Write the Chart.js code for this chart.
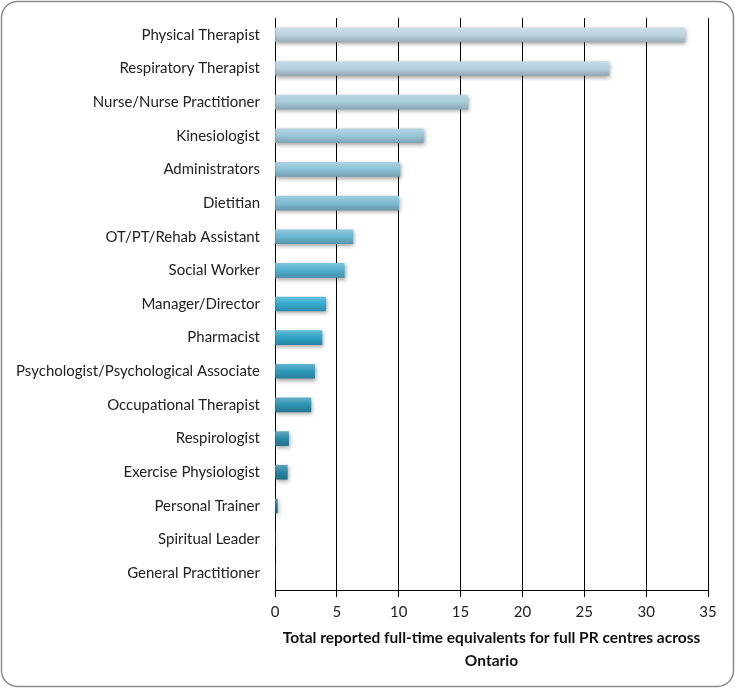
<!DOCTYPE html>
<html>
<head>
<meta charset="utf-8">
<script src="https://cdn.jsdelivr.net/npm/chart.js@4.4.0/dist/chart.umd.min.js"></script>
<style>
  html, body { margin: 0; padding: 0; background: #fff; }
  #wrap { width: 735px; height: 688px; position: relative; }
</style>
</head>
<body>
<div id="wrap"><canvas id="chartFte" width="735" height="688"></canvas></div>
<script>
  // data
  const roles = [
    'Physical Therapist', 'Respiratory Therapist', 'Nurse/Nurse Practitioner',
    'Kinesiologist', 'Administrators', 'Dietitian', 'OT/PT/Rehab Assistant',
    'Social Worker', 'Manager/Director', 'Pharmacist',
    'Psychologist/Psychological Associate', 'Occupational Therapist',
    'Respirologist', 'Exercise Physiologist', 'Personal Trainer',
    'Spiritual Leader', 'General Practitioner'
  ];
  const fteTotals = [33.1, 27.0, 15.6, 12.0, 10.1, 10.0, 6.3, 5.6, 4.1, 3.8, 3.2, 2.9, 1.1, 1.0, 0.2, 0, 0];
  const xTicks = [0, 5, 10, 15, 20, 25, 30, 35];
  const axisTitle = ['Total reported full-time equivalents for full PR centres across', 'Ontario'];

  // bar base colours, light grey-blue at top to deep teal at bottom
  const barColors = [
    '#bcd3df', '#b3cfdc', '#a6cbdb', '#99c6d9', '#8cc2d7', '#7ebbd3', '#6bb6d2',
    '#52afd0', '#34a9cf', '#2fa2c6', '#2d9abd', '#2c92b3', '#2b8aa8', '#2a83a0',
    '#297c96', '#297c96', '#297c96'
  ];
  const BAR_H = 14;

  function shade(hex, amt){
    const n = parseInt(hex.slice(1), 16);
    let r = (n >> 16) & 255, g = (n >> 8) & 255, b = n & 255;
    const f = v => Math.max(0, Math.min(255, Math.round(amt > 0 ? v + (255 - v) * amt : v * (1 + amt))));
    return 'rgb(' + f(r) + ',' + f(g) + ',' + f(b) + ')';
  }

  function barFill(ctx){
    const chart = ctx.chart;
    const base = barColors[ctx.dataIndex] || '#2b8aa8';
    const y = chart.scales && chart.scales.y;
    if(!y || !chart.chartArea) return base;
    const cy = y.getPixelForValue(ctx.dataIndex);
    const g = chart.ctx.createLinearGradient(0, cy - BAR_H / 2, 0, cy + BAR_H / 2);
    g.addColorStop(0, shade(base, 0.25));
    g.addColorStop(0.5, base);
    g.addColorStop(1, shade(base, -0.18));
    return g;
  }

  const frame = {
    id: 'frame',
    beforeDraw(chart){
      const c = chart.ctx;
      c.save();
      c.fillStyle = '#fff';
      c.fillRect(0, 0, chart.width, chart.height);
      c.beginPath();
      c.roundRect(1.5, 1.5, chart.width - 3, chart.height - 3, 16);
      c.strokeStyle = '#8a8a8a';
      c.lineWidth = 1.5;
      c.stroke();
      c.restore();
    }
  };

  const barShadow = {
    id: 'barShadow',
    beforeDatasetDraw(chart){
      const c = chart.ctx;
      c.save();
      c.shadowColor = 'rgba(0,0,0,0.35)';
      c.shadowBlur = 4;
      c.shadowOffsetX = 1;
      c.shadowOffsetY = 2;
    },
    afterDatasetDraw(chart){
      chart.ctx.restore();
    }
  };

  const font = 'Lato, "Open Sans", sans-serif';

  new Chart(document.getElementById('chartFte'), {
    type: 'bar',
    data: {
      labels: roles,
      datasets: [{
        data: fteTotals,
        backgroundColor: barFill,
        borderWidth: 0,
        barThickness: BAR_H
      }]
    },
    options: {
      indexAxis: 'y',
      responsive: false,
      animation: false,
      layout: { padding: { left: 8, right: 27, top: 18, bottom: 12 } },
      plugins: {
        legend: { display: false },
        tooltip: { enabled: false }
      },
      scales: {
        x: {
          min: 0,
          max: 35,
          afterBuildTicks(scale){ scale.ticks = xTicks.map(v => ({ value: v })); },
          afterFit(scale){ scale.height = 688 - 12 - 590; },
          grid: { color: '#000', lineWidth: 1, tickLength: 7, drawTicks: true },
          border: { display: true, color: '#000', width: 1 },
          ticks: { color: '#222', font: { family: font, size: 15 }, padding: 6 },
          title: {
            display: true,
            text: axisTitle,
            color: '#111',
            font: { family: font, size: 15.5, weight: 'bold', lineHeight: 1.45 },
            padding: { top: 6 }
          }
        },
        y: {
          afterFit(scale){
            scale.width = 267;
            scale.paddingTop = 0;
            scale.paddingBottom = 0;
          },
          grid: { display: false, drawTicks: false },
          border: { display: true, color: '#000', width: 1 },
          ticks: { color: '#222', font: { family: font, size: 15 }, padding: 15, autoSkip: false }
        }
      }
    },
    plugins: [frame, barShadow]
  });
</script>
</body>
</html>
